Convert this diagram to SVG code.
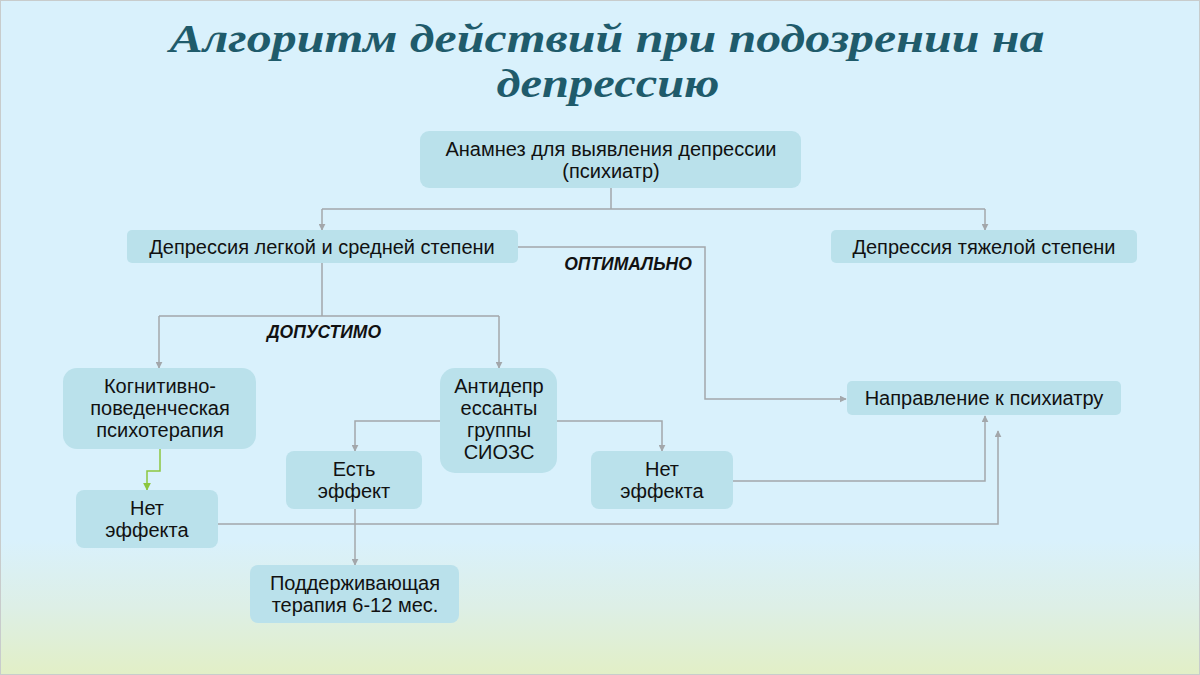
<svg xmlns="http://www.w3.org/2000/svg" width="1200" height="675" viewBox="0 0 1200 675">
<defs>
<linearGradient id="bg" x1="0" y1="0" x2="0" y2="1">
<stop offset="0" stop-color="#d9f1fc"/>
<stop offset="0.8" stop-color="#d9f1fc"/>
<stop offset="0.9" stop-color="#ddefe6"/>
<stop offset="1" stop-color="#e2efc6"/>
</linearGradient>
<marker id="ar" viewBox="0 0 10 10" refX="9" refY="5" markerWidth="7" markerHeight="7" markerUnits="userSpaceOnUse" orient="auto">
<path d="M0,0 L10,5 L0,10 z" fill="#a3a7ab"/>
</marker>
<marker id="arg" viewBox="0 0 10 10" refX="9" refY="5" markerWidth="8" markerHeight="8" markerUnits="userSpaceOnUse" orient="auto">
<path d="M0,0 L10,5 L0,10 z" fill="#8cc63f"/>
</marker>
</defs>
<style>
.box{fill:#bae1eb}
.t{font-family:"Liberation Sans",Arial,sans-serif;font-size:20px;fill:#111;text-anchor:middle}
.lbl{font-family:"Liberation Sans",Arial,sans-serif;font-size:17.5px;font-weight:bold;font-style:italic;fill:#111;text-anchor:middle}
.title{font-family:"Liberation Serif","Times New Roman",serif;font-size:40px;font-weight:bold;font-style:italic;fill:#1f5b6b;text-anchor:middle}
.c{fill:none;stroke:#a3a7ab;stroke-width:1.5}
.g{fill:none;stroke:#8cc63f;stroke-width:1.5}
</style>
<rect x="0" y="0" width="1200" height="675" fill="url(#bg)"/>
<rect x="0.5" y="0.5" width="1199" height="674" fill="none" stroke="#c8cccc" stroke-width="1"/>
<g id="title">
<text class="title" x="607" y="52" textLength="875" lengthAdjust="spacingAndGlyphs">Алгоритм действий при подозрении на</text>
<text class="title" x="608" y="97" textLength="223" lengthAdjust="spacingAndGlyphs">депрессию</text>
</g>
<g id="connectors">
<path class="c" d="M611,188 V209 M322,209 H985"/>
<path class="c" d="M322,209 V230" marker-end="url(#ar)"/>
<path class="c" d="M985,209 V230" marker-end="url(#ar)"/>
<path class="c" d="M518,247 H705 V399 H846" marker-end="url(#ar)"/>
<path class="c" d="M322,263 V316 M159,316 H499"/>
<path class="c" d="M159,316 V368" marker-end="url(#ar)"/>
<path class="c" d="M499,316 V368" marker-end="url(#ar)"/>
<path class="g" d="M160,449 V471 H147 V490" marker-end="url(#arg)"/>
<path class="c" d="M440,421 H355 V451" marker-end="url(#ar)"/>
<path class="c" d="M557,421 H662 V451" marker-end="url(#ar)"/>
<path class="c" d="M355,509 V565" marker-end="url(#ar)"/>
<path class="c" d="M733,481 H985 V416" marker-end="url(#ar)"/>
<path class="c" d="M218,524 H998 V431" marker-end="url(#ar)"/>
<text class="lbl" x="628" y="270">ОПТИМАЛЬНО</text>
<text class="lbl" x="324" y="338">ДОПУСТИМО</text>
</g>
<g id="n-anamnez">
<rect class="box" x="420" y="131" width="381" height="57" rx="9"/>
<text class="t" x="611" y="156">Анамнез для выявления депрессии</text>
<text class="t" x="611" y="178">(психиатр)</text>
</g>
<g id="n-light">
<rect class="box" x="127" y="230" width="391" height="33" rx="5"/>
<text class="t" x="322" y="254">Депрессия легкой и средней степени</text>
</g>
<g id="n-severe">
<rect class="box" x="831" y="230" width="306" height="33" rx="5"/>
<text class="t" x="984" y="254">Депрессия тяжелой степени</text>
</g>
<g id="n-cbt">
<rect class="box" x="63" y="368" width="193" height="81" rx="14"/>
<text class="t" x="160" y="393">Когнитивно-</text>
<text class="t" x="160" y="415">поведенческая</text>
<text class="t" x="160" y="437">психотерапия</text>
</g>
<g id="n-ssri">
<rect class="box" x="440" y="368" width="117" height="105" rx="15"/>
<text class="t" x="499" y="393">Антидепр</text>
<text class="t" x="499" y="415">ессанты</text>
<text class="t" x="499" y="437">группы</text>
<text class="t" x="499" y="459">СИОЗС</text>
</g>
<g id="n-psych">
<rect class="box" x="847" y="381" width="274" height="34" rx="5"/>
<text class="t" x="984" y="405">Направление к психиатру</text>
</g>
<g id="n-effect">
<rect class="box" x="286" y="451" width="136" height="58" rx="8"/>
<text class="t" x="354" y="476">Есть</text>
<text class="t" x="354" y="498">эффект</text>
</g>
<g id="n-noeffect-r">
<rect class="box" x="591" y="451" width="142" height="58" rx="8"/>
<text class="t" x="662" y="476">Нет</text>
<text class="t" x="662" y="498">эффекта</text>
</g>
<g id="n-noeffect-l">
<rect class="box" x="76" y="490" width="142" height="58" rx="8"/>
<text class="t" x="147" y="515">Нет</text>
<text class="t" x="147" y="537">эффекта</text>
</g>
<g id="n-maint">
<rect class="box" x="250" y="565" width="209" height="58" rx="8"/>
<text class="t" x="355" y="590">Поддерживающая</text>
<text class="t" x="355" y="612">терапия 6-12 мес.</text>
</g>
</svg>
